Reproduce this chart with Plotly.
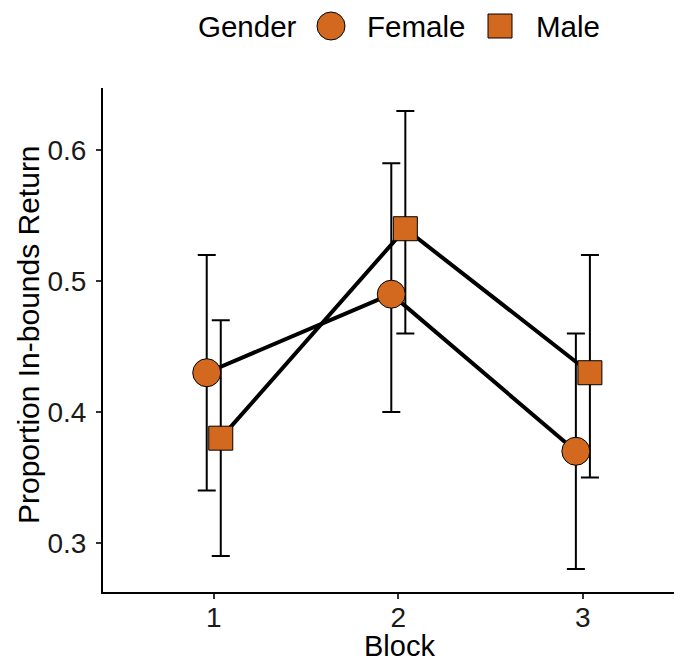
import plotly.graph_objects as go

blocks = [1, 2, 3]
block_labels = ["1", "2", "3"]
female_mean = [0.43, 0.49, 0.37]
female_lo = [0.34, 0.40, 0.28]
female_hi = [0.52, 0.59, 0.46]
male_mean = [0.38, 0.54, 0.43]
male_lo = [0.29, 0.46, 0.35]
male_hi = [0.47, 0.63, 0.52]

dodge = 0.038
orange = "#D2691E"
font_family = "Liberation Sans, Arial, sans-serif"

fx = [b - dodge for b in blocks]
mx = [b + dodge for b in blocks]

fig = go.Figure()

def err(mean, lo, hi):
    return dict(type="data", symmetric=False,
                array=[h - m for h, m in zip(hi, mean)],
                arrayminus=[m - l for m, l in zip(mean, lo)],
                color="black", thickness=2, width=9)

# error bars
fig.add_trace(go.Scatter(x=fx, y=female_mean, mode="markers", marker=dict(size=1, opacity=0),
                         error_y=err(female_mean, female_lo, female_hi), showlegend=False, hoverinfo="skip"))
fig.add_trace(go.Scatter(x=mx, y=male_mean, mode="markers", marker=dict(size=1, opacity=0),
                         error_y=err(male_mean, male_lo, male_hi), showlegend=False, hoverinfo="skip"))
# lines
fig.add_trace(go.Scatter(x=fx, y=female_mean, mode="lines", line=dict(color="black", width=4),
                         showlegend=False, hoverinfo="skip"))
fig.add_trace(go.Scatter(x=mx, y=male_mean, mode="lines", line=dict(color="black", width=4),
                         showlegend=False, hoverinfo="skip"))
# points
fig.add_trace(go.Scatter(x=fx, y=female_mean, mode="markers", name="Female",
                         marker=dict(symbol="circle", size=28, color=orange, line=dict(color="black", width=1)),
                         showlegend=False))
fig.add_trace(go.Scatter(x=mx, y=male_mean, mode="markers", name="Male",
                         marker=dict(symbol="square", size=24, color=orange, line=dict(color="black", width=1)),
                         showlegend=False))

# figure is offset by the 8px page margin, so work in figure pixels
FW, FH = 674, 656
L, T, W, H = 95, 80, 579, 504
def px(x):
    return (x - L) / W
def py(y):
    return (T + H - y) / H

ly = 18
lfont = dict(size=29.5, color="black", family=font_family)
tfont = dict(size=29, color="black", family=font_family)
annotations = [
    dict(text="Gender", x=px(188), y=py(ly), xref="paper", yref="paper", xanchor="left", yanchor="middle",
         showarrow=False, font=lfont),
    dict(text="Female", x=px(357), y=py(ly), xref="paper", yref="paper", xanchor="left", yanchor="middle",
         showarrow=False, font=lfont),
    dict(text="Male", x=px(526), y=py(ly), xref="paper", yref="paper", xanchor="left", yanchor="middle",
         showarrow=False, font=lfont),
    dict(text="Block", x=px(391), y=py(638), xref="paper", yref="paper", xanchor="center", yanchor="middle",
         showarrow=False, font=tfont),
    dict(text="Proportion In-bounds Return", x=px(20), y=py(327), xref="paper", yref="paper",
         xanchor="center", yanchor="middle", textangle=-90, showarrow=False,
         font=dict(size=30, color="black", family=font_family)),
]
shapes = [
    dict(type="circle", xref="paper", yref="paper", xsizemode="pixel", ysizemode="pixel",
         xanchor=px(323), yanchor=py(ly), x0=-14, x1=14, y0=-14, y1=14,
         fillcolor=orange, line=dict(color="black", width=1)),
    dict(type="rect", xref="paper", yref="paper", xsizemode="pixel", ysizemode="pixel",
         xanchor=px(492), yanchor=py(ly), x0=-12, x1=12, y0=-12, y1=12,
         fillcolor=orange, line=dict(color="black", width=1)),
]

fig.update_layout(
    width=FW, height=FH,
    margin=dict(l=L, r=FW - L - W, t=T, b=FH - T - H),
    paper_bgcolor="white", plot_bgcolor="white",
    font=dict(family=font_family, color="black"),
    showlegend=False,
    annotations=annotations,
    shapes=shapes,
    xaxis=dict(range=[0.4, 3.537], tickmode="array", tickvals=blocks, ticktext=block_labels,
               showgrid=False, zeroline=False, showline=True, linecolor="black", linewidth=2,
               ticks="outside", ticklen=5, tickwidth=1.5, tickcolor="#333333",
               tickfont=dict(size=28, color="#1a1a1a"), ticklabelstandoff=-6),
    yaxis=dict(range=[0.2625, 0.6475], tickvals=[0.3, 0.4, 0.5, 0.6], ticktext=["0.3", "0.4", "0.5", "0.6"],
               showgrid=False, zeroline=False, showline=True, linecolor="black", linewidth=2,
               ticks="outside", ticklen=5, tickwidth=1.5, tickcolor="#333333",
               tickfont=dict(size=28, color="#1a1a1a"), ticklabelstandoff=4),
)

fig.write_html("out.html")
